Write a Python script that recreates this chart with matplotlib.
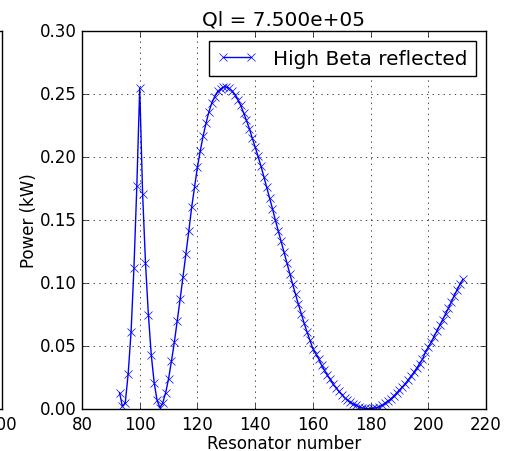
import matplotlib
matplotlib.use("Agg")
import matplotlib.pyplot as plt
import numpy as np

plt.style.use('classic')

# resonator numbers 93..212
resonator = np.arange(93, 213)

power = [
    0.013, 0.002, 0.005, 0.028, 0.061, 0.112, 0.177, 0.255,          # 93-100
    0.171, 0.116, 0.075, 0.043, 0.021, 0.007, 0.001,                 # 101-107
    0.005, 0.013, 0.024, 0.038, 0.053, 0.070, 0.087, 0.105,          # 108-115
    0.123, 0.141, 0.160, 0.176, 0.192, 0.205, 0.217, 0.227,          # 116-123
    0.236, 0.243, 0.248, 0.252, 0.254, 0.2555, 0.2555, 0.2545,       # 124-131
    0.2525, 0.2495, 0.2455, 0.241, 0.235, 0.229, 0.2225, 0.215,      # 132-139
    0.208, 0.2005, 0.193, 0.1845, 0.176, 0.1675, 0.159, 0.150,       # 140-147
    0.1415, 0.133, 0.1245, 0.116, 0.1075, 0.099, 0.091, 0.083,       # 148-155
    0.0755, 0.068, 0.061, 0.0545, 0.048, 0.044, 0.040, 0.035,        # 156-163
    0.031, 0.027, 0.0235, 0.020, 0.017, 0.014, 0.0115, 0.009,        # 164-171
    0.007, 0.0053, 0.004, 0.0028, 0.0018, 0.001, 0.0005, 0.0002,     # 172-179
    0.0002, 0.0005, 0.001, 0.0018, 0.003, 0.0045, 0.0062, 0.008,     # 180-187
    0.0102, 0.0127, 0.015, 0.0175, 0.020, 0.023, 0.026, 0.029,       # 188-195
    0.0325, 0.036, 0.0395, 0.045, 0.049, 0.053, 0.0575, 0.062,       # 196-203
    0.0665, 0.071, 0.0755, 0.080, 0.085, 0.090, 0.0945, 0.099,       # 204-211
    0.103,                                                           # 212
]

fig = plt.figure(figsize=(5.1, 4.52), dpi=100)

# neighbouring subplot, mostly off the left edge
ax0 = fig.add_axes([-0.8, 0.0929, 0.8 + 1.5/510, 0.8363])
ax0.set_xlim(0, 200)
ax0.set_xticks([200])
ax0.set_yticks([])
ax0.grid(False)

ax = fig.add_axes([0.1608, 0.0929, 0.7921, 0.8363])
ax.plot(resonator, power, 'b-x', label='High Beta reflected')
ax.set_xlim(80, 220)
ax.set_ylim(0, 0.30)
ax.set_xlabel('Resonator number', labelpad=1)
ax.set_ylabel('Power (kW)', labelpad=1)
ax.set_title('Ql = 7.500e+05')
ax.grid(True)
ax.legend(loc='upper right')

fig.savefig('out.png', dpi=100)
